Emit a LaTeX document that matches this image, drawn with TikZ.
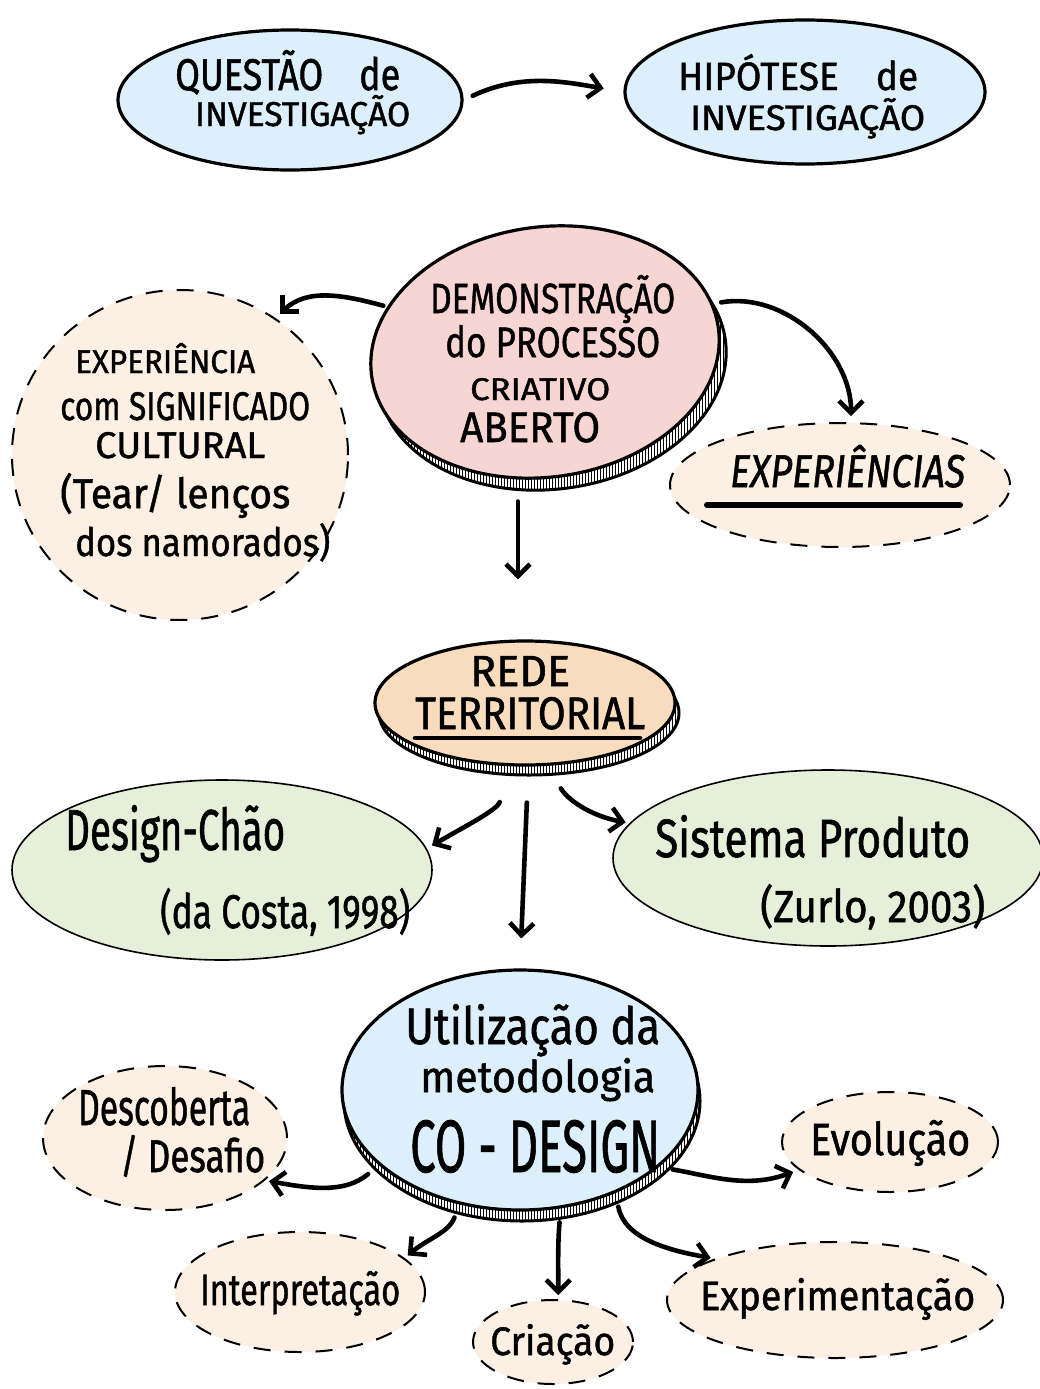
\documentclass[tikz,border=0pt]{standalone}
\usepackage{fontspec}
\setmainfont{Fira Sans}
\newfontfamily\hwf{Fira Sans}[FakeBold=1.2]
\usetikzlibrary{shapes.geometric,arrows.meta,patterns,calc}
\definecolor{cblue}{HTML}{DDEFFA}
\definecolor{cpink}{HTML}{F7D5D3}
\definecolor{cpeach}{HTML}{FCEFE3}
\definecolor{corange}{HTML}{F8DCBD}
\definecolor{cgreen}{HTML}{E5EFDA}
\newcommand\fsz[1]{\fontsize{#1}{#1}\selectfont}
\newcommand\fit[3]{\resizebox{#1pt}{#2pt}{\hwf\fsz{30}#3}}
\begin{document}
\begin{tikzpicture}[x=1pt,y=1pt,
  ell/.style={ellipse, draw, line width=3.2pt, inner sep=0pt},
  dell/.style={ellipse, draw, line width=2pt, dash pattern=on 17pt off 14pt, inner sep=0pt, fill=cpeach},
  rim/.style={line width=3pt, draw, pattern=vertical lines, pattern color=black},
  arr/.style={line width=4.6pt, line cap=round, -{Straight Barb[length=12pt,width=24pt]}},
  txt/.style={inner sep=0pt, anchor=base west},
  uline/.style={line width=6pt, line cap=round}]
\useasboundingbox (0,0) rectangle (1040,-1389);
\fill[white] (0,0) rectangle (1040,-1389);

% ---------- top row ----------
\node[ell, fill=cblue, minimum width=344pt, minimum height=140pt] (q) at (290,-100) {};
\node[txt] (q1) at (175,-90) {\fit{225}{40}{QUESTÃO\quad de}};
\node[txt] (q2) at (195,-126) {\fit{215}{31}{INVESTIGAÇÃO}};

\node[ell, fill=cblue, minimum width=360pt, minimum height=144pt] (h) at (805,-92) {};
\node[txt] (h1) at (678,-90) {\fit{240}{36}{HIPÓTESE\quad de}};
\node[txt] (h2) at (690,-130) {\fit{235}{32}{INVESTIGAÇÃO}};

% ---------- demonstration ----------
\fill[white, rotate around={8:(552,-364)}] (552,-364) ellipse [x radius=175, y radius=125];
\draw[rim, rotate around={8:(552,-364)}] (552,-364) ellipse [x radius=175, y radius=125];
\node[ell, fill=cpink, rotate=8, minimum width=350pt, minimum height=250pt] (d) at (545,-352) {};
\node[txt] (d1) at (430,-313) {\fit{245}{38}{DEMONSTRAÇÃO}};
\node[txt] (d2) at (445,-357) {\fit{215}{32}{do PROCESSO}};
\node[txt] (d3) at (470,-400) {\fit{140}{22}{CRIATIVO}};
\node[txt] (d4) at (460,-442) {\fit{140}{30}{ABERTO}};

\node[dell, minimum width=336pt, minimum height=330pt] (lc) at (180,-455) {};
\node[txt] (l1) at (75,-373) {\fit{180}{30}{EXPERIÊNCIA}};
\node[txt] (l2) at (60,-420) {\fit{250}{28}{com SIGNIFICADO}};
\node[txt] (l3) at (95,-458) {\fit{170}{26}{CULTURAL}};
\node[txt] (l4) at (60,-508) {\fit{230}{35}{(Tear/ lenços}};
\node[txt] (l5) at (75,-556) {\fit{255}{33}{dos namorados)}};

\node[dell, minimum width=340pt, minimum height=124pt] (re) at (840,-485) {};
\node[txt] (r1) at (730,-487) {\fit{235}{42}{\itshape EXPERIÊNCIAS}};
\draw[uline] ($(re.center)+(-133,-20)$) -- ($(re.center)+(120,-20)$);

% ---------- rede territorial ----------
\fill[white] (529,-713) ellipse [x radius=150, y radius=62];
\draw[rim] (529,-713) ellipse [x radius=150, y radius=62];
\node[ell, fill=corange, minimum width=300pt, minimum height=124pt] (r) at (525,-703) {};
\node[txt] (rt1) at (470,-686) {\fit{100}{30}{REDE}};
\node[txt] (rt2) at (415,-729) {\fit{230}{32}{TERRITORIAL}};
\draw[uline, line width=4.5pt] ($(r.center)+(-110,-35)$) -- ($(r.center)+(115,-35)$);

\node[ell, line width=1.6pt, fill=cgreen, minimum width=420pt, minimum height=180pt] (g1) at (222,-870) {};
\node[txt] (g11) at (65,-850) {\fit{220}{45}{Design-Chão}};
\node[txt] (g12) at (160,-928) {\fit{250}{40}{(da Costa, 1998)}};

\node[ell, line width=1.6pt, fill=cgreen, minimum width=430pt, minimum height=176pt] (g2) at (828,-858) {};
\node[txt] (g21) at (655,-857) {\fit{315}{42}{Sistema Produto}};
\node[txt] (g22) at (760,-922) {\fit{225}{38}{(Zurlo, 2003)}};

% ---------- co-design ----------
\fill[white] (522,-1101) ellipse [x radius=178, y radius=120];
\draw[rim] (522,-1101) ellipse [x radius=178, y radius=120];
\node[ell, fill=cblue, minimum width=356pt, minimum height=240pt] (u) at (520,-1090) {};
\node[txt] (u1) at (405,-1044) {\fit{255}{40}{Utilização da}};
\node[txt] (u2) at (420,-1092) {\fit{235}{34}{metodologia}};
\node[txt] (u3) at (410,-1172) {\fit{250}{52}{CO - DESIGN}};

\node[dell, minimum width=244pt, minimum height=144pt] (ds) at (165,-1138) {};
\node[txt] (ds1) at (78,-1125) {\fit{172}{38}{Descoberta}};
\node[txt] (ds2) at (120,-1172) {\fit{145}{37}{/ Desafio}};

\node[dell, minimum width=216pt, minimum height=100pt] (ev) at (890,-1142) {};
\node[txt] (ev1) at (810,-1155) {\fit{160}{35}{Evolução}};

\node[dell, minimum width=250pt, minimum height=120pt] (ip) at (300,-1292) {};
\node[txt] (ip1) at (200,-1305) {\fit{200}{34}{Interpretação}};

\node[dell, minimum width=160pt, minimum height=84pt] (cr) at (553,-1342) {};
\node[txt] (cr1) at (490,-1355) {\fit{125}{31}{Criação}};

\node[dell, minimum width=336pt, minimum height=116pt] (ex) at (835,-1300) {};
\node[txt] (ex1) at (700,-1310) {\fit{275}{32}{Experimentação}};

% ---------- connectors ----------
\draw[arr, shorten <=10pt, shorten >=20pt] (q.east) to[out=25,in=170] (h.west);
\draw[arr, shorten <=4pt, shorten >=6pt] (d.156) to[out=165,in=45] (lc.55);
\draw[arr, shorten <=8pt, shorten >=6pt] (d.8) to[out=10,in=90] (re.80);
\draw[arr, shorten <=22pt, shorten >=60pt] (d.250) -- (d.250 |- r.north);
\draw[arr, shorten <=38pt, shorten >=6pt] (r.259) to[out=-110,in=30] (g1.6);
\draw[arr, shorten <=36pt, shorten >=30pt] (r.273) -- (u.north);
\draw[arr, shorten <=26pt, shorten >=4pt] (r.290) to[out=-60,in=170] (g2.170);
\draw[arr, shorten <=14pt, shorten >=4pt] (u.208) to[out=-140,in=-10] (ds.-23);
\draw[arr, shorten <=14pt, shorten >=4pt] (u.242) to[out=-110,in=40] (ip.18);
\draw[arr, shorten <=14pt, shorten >=4pt] (u.289) to[out=-95,in=90] (cr.83);
\draw[arr, shorten <=14pt, shorten >=4pt] (u.313) to[out=-80,in=170] (ex.161);
\draw[arr, shorten <=14pt, shorten >=6pt] (u.331) to[out=-10,in=200] (ev.197);
\end{tikzpicture}
\end{document}
